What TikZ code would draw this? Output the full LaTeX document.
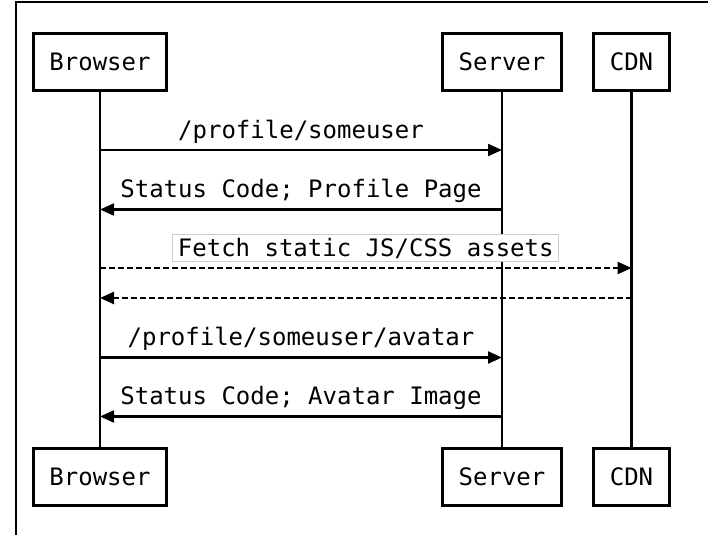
\documentclass[tikz,border=0pt]{standalone}
\usepackage{fontspec}
\setmonofont{DejaVu Sans Mono}
\usetikzlibrary{arrows.meta}
\begin{document}
\begin{tikzpicture}[x=1pt,y=-1pt,
  txt/.style={font=\ttfamily\fontsize{24}{24}\selectfont},
  actor/.style={txt,draw,line width=3pt,minimum height=57pt,inner xsep=16pt,inner ysep=0pt},
  life/.style={line width=2.8pt},
  msg/.style={line width=2.2pt,-{Triangle[length=14pt,width=12pt]}},
  reply/.style={msg,line width=2.6pt,dash pattern=on 6pt off 3pt},
  lbl/.style={txt,anchor=base,inner sep=0pt},
  boxlbl/.style={txt,anchor=base,draw=gray!40,line width=1pt,fill=white,text height=18pt,text depth=1pt,inner xsep=5pt,inner ysep=4pt}]
\useasboundingbox (0,0) rectangle (708,535);
\draw[line width=1.5pt] (16,535) -- (16,2) -- (708,2);
% actors
\node[actor] (b1) at (100,62) {Browser};
\node[actor] (s1) at (502,62) {Server};
\node[actor] (c1) at (631.5,62) {CDN};
\node[actor] (b2) at (100,476.5) {Browser};
\node[actor] (s2) at (502,476.5) {Server};
\node[actor] (c2) at (631.5,476.5) {CDN};
% lifelines
\draw[life] (b1) -- (b2);
\draw[life] (s1) -- (s2);
\draw[life] (c1) -- (c2);
% message end points
\coordinate (m1a) at (100,150);   \coordinate (m1b) at (502,150);
\coordinate (m2a) at (502,209.5); \coordinate (m2b) at (100,209.5);
\coordinate (m3a) at (100,268);   \coordinate (m3b) at (631.5,268);
\coordinate (m4a) at (631.5,298); \coordinate (m4b) at (100,298);
\coordinate (m5a) at (100,357.5); \coordinate (m5b) at (502,357.5);
\coordinate (m6a) at (502,416.5); \coordinate (m6b) at (100,416.5);
% messages
\draw[msg] (m1a) -- (m1b);
\node[lbl] (t1) at (301,138) {/profile/someuser};
\draw[msg] (m2a) -- (m2b);
\node[lbl] (t2) at (301,197.5) {Status Code; Profile Page};
\draw[reply] (m3a) -- (m3b);
\node[boxlbl] (t3) at (365.75,256.5) {Fetch static JS/CSS assets};
\draw[reply] (m4a) -- (m4b);
\draw[msg] (m5a) -- (m5b);
\node[lbl] (t5) at (301,345.5) {/profile/someuser/avatar};
\draw[msg] (m6a) -- (m6b);
\node[lbl] (t6) at (301,404.5) {Status Code; Avatar Image};
\end{tikzpicture}
\end{document}
